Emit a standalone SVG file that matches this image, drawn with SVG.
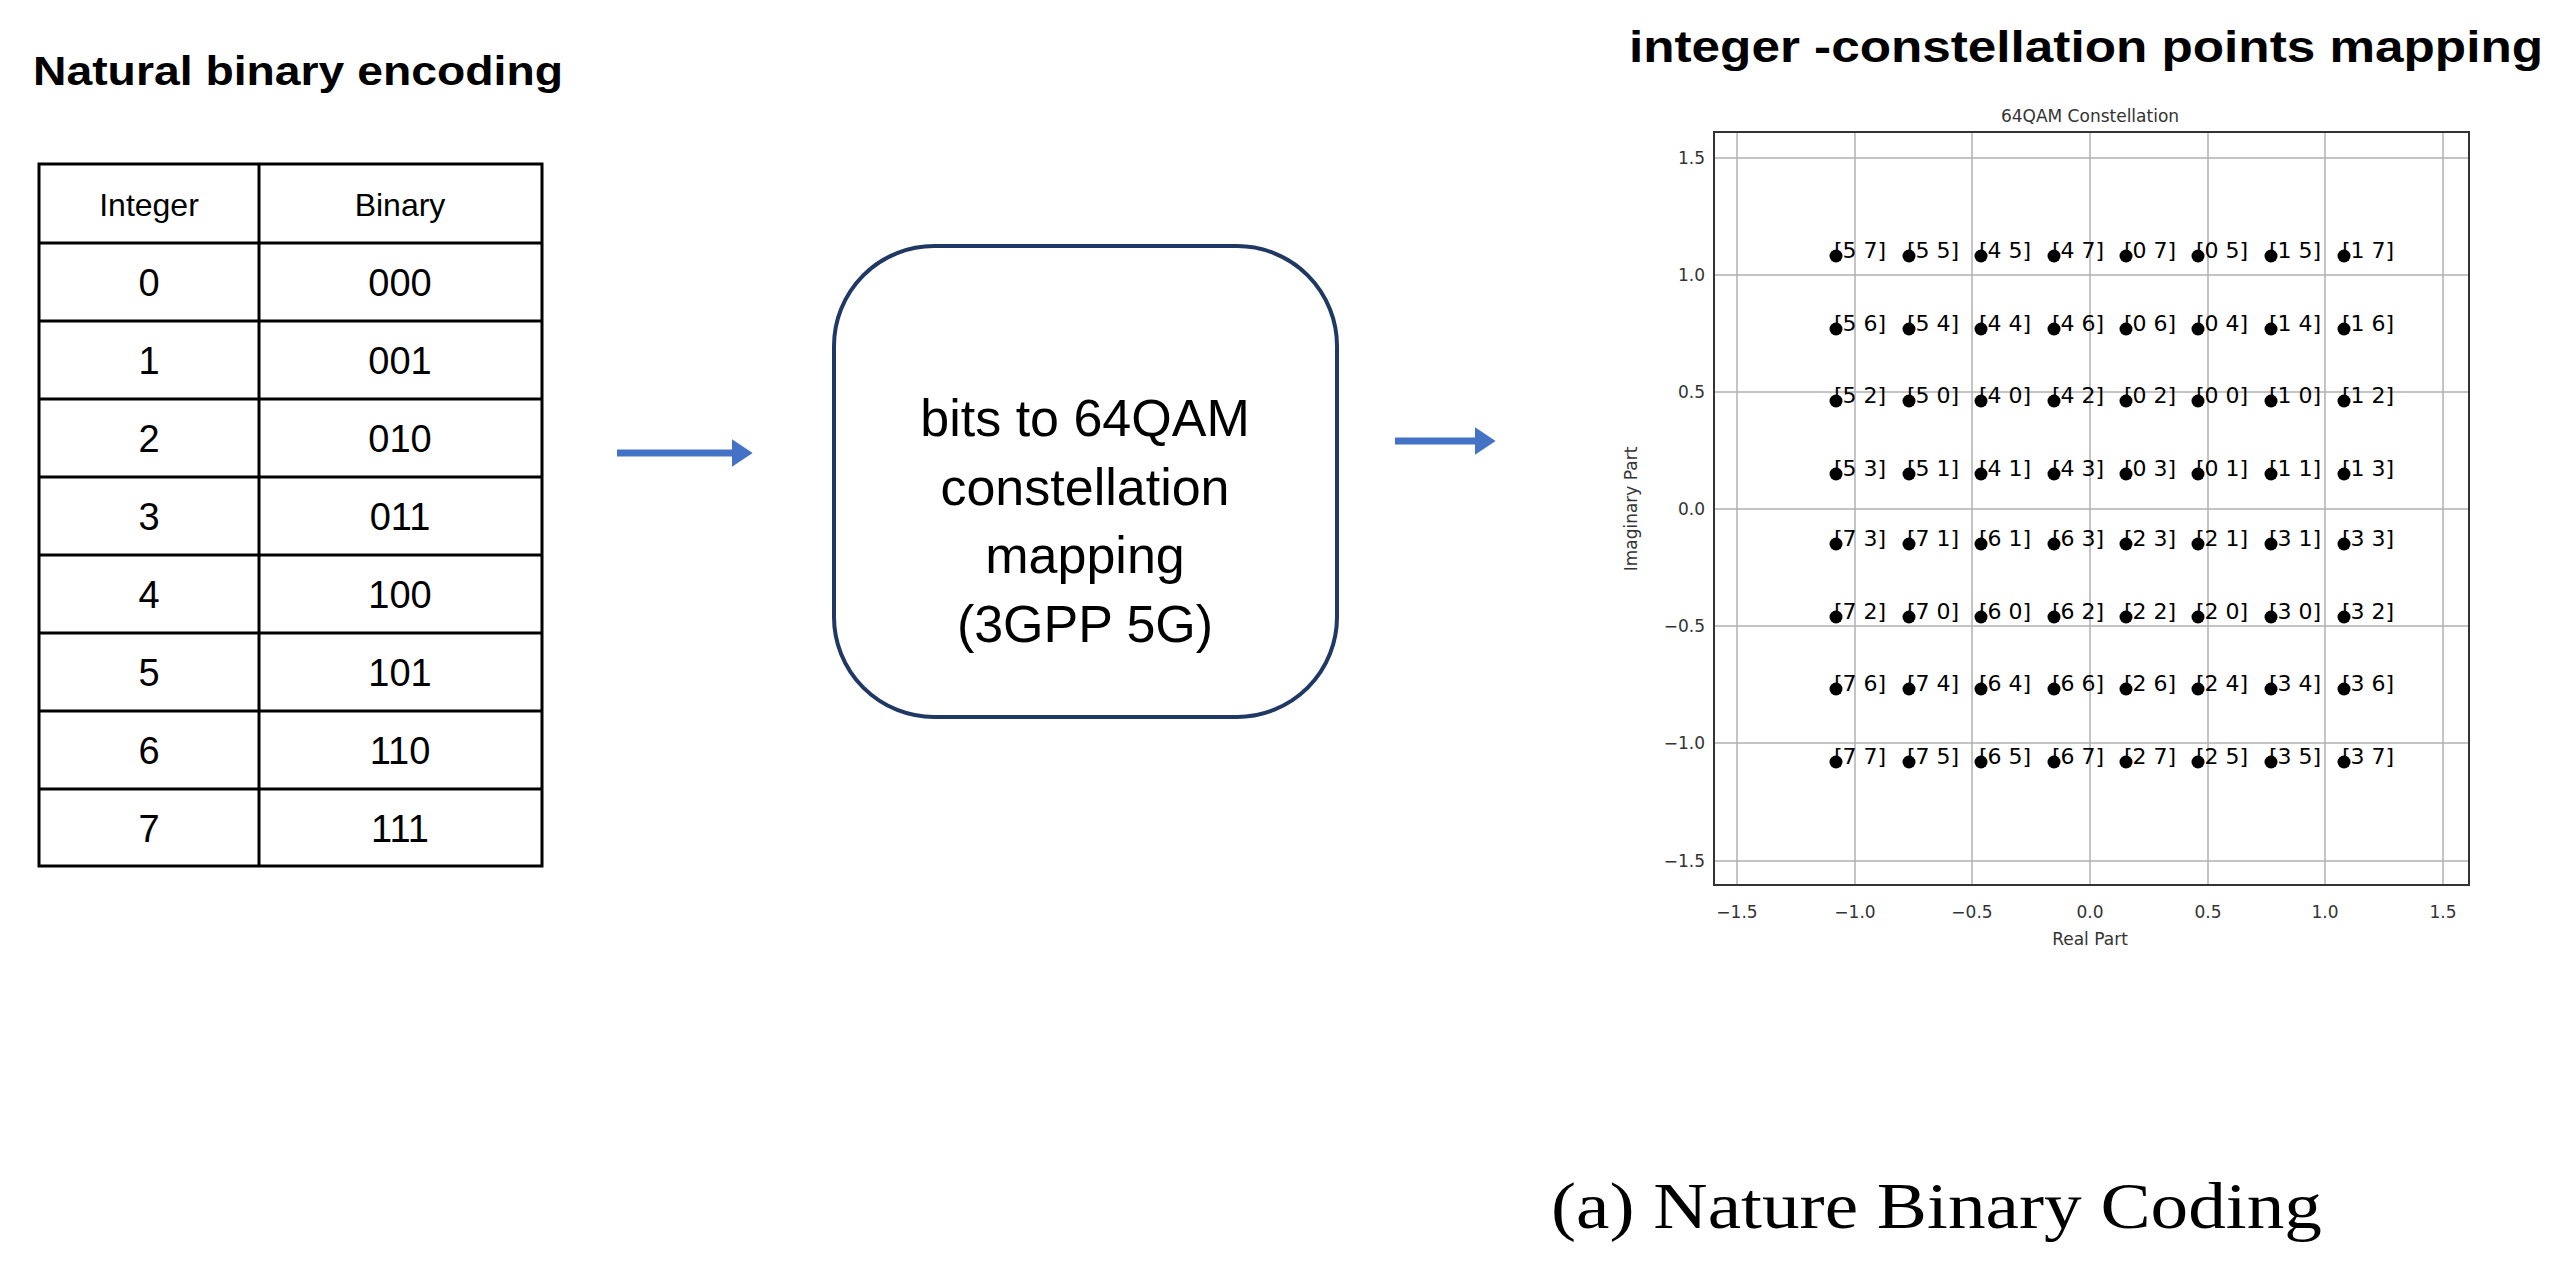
<svg xmlns="http://www.w3.org/2000/svg" width="2573" height="1268" viewBox="0 0 2573 1268">
<style>
.t{font-family:"Liberation Sans",Arial,sans-serif;fill:#000}
.c{text-anchor:middle}
.cell{font-size:38px}
.grid{stroke:#b0b0b0;stroke-width:1.5}
.tick{font-family:"DejaVu Sans",sans-serif;font-size:17px;fill:#333}
.lab{font-family:"DejaVu Sans",sans-serif;font-size:22px;fill:#000}
.arr{stroke:#4472c4;stroke-width:7;fill:none}
</style>
<defs><marker id="ah" markerWidth="4" markerHeight="4" refX="2.2" refY="2" orient="auto"><path d="M0,0 L3,2 L0,4 z" fill="#4472c4"/></marker></defs>
<rect width="2573" height="1268" fill="#fff"/>
<g id="title-left"><text class="t" x="33" y="85" font-size="40" font-weight="bold" fill="#333" textLength="530" lengthAdjust="spacingAndGlyphs">Natural binary encoding</text></g>
<g id="table">
<rect x="39" y="164" width="503" height="702" fill="none" stroke="#000" stroke-width="3"/>
<line x1="259" y1="164" x2="259" y2="866" stroke="#000" stroke-width="3"/>
<g stroke="#000" stroke-width="3"><line x1="39" y1="243" x2="542" y2="243"/><line x1="39" y1="321" x2="542" y2="321"/><line x1="39" y1="399" x2="542" y2="399"/><line x1="39" y1="477" x2="542" y2="477"/><line x1="39" y1="555" x2="542" y2="555"/><line x1="39" y1="633" x2="542" y2="633"/><line x1="39" y1="711" x2="542" y2="711"/><line x1="39" y1="789" x2="542" y2="789"/></g>
<text class="t c" x="149" y="216" font-size="32">Integer</text><text class="t c" x="400" y="216" font-size="32">Binary</text>
<g class="t c cell">
<text x="149" y="296">0</text><text x="400" y="296">000</text>
<text x="149" y="374">1</text><text x="400" y="374">001</text>
<text x="149" y="452">2</text><text x="400" y="452">010</text>
<text x="149" y="530">3</text><text x="400" y="530">011</text>
<text x="149" y="608">4</text><text x="400" y="608">100</text>
<text x="149" y="686">5</text><text x="400" y="686">101</text>
<text x="149" y="764">6</text><text x="400" y="764">110</text>
<text x="149" y="842">7</text><text x="400" y="842">111</text>
</g></g>
<g id="connectors"><line class="arr" x1="617" y1="453" x2="747" y2="453" marker-end="url(#ah)"/><line class="arr" x1="1395" y1="441" x2="1490" y2="441" marker-end="url(#ah)"/></g>
<g id="mapper"><rect x="834" y="246" width="503" height="471" rx="100" fill="#fff" stroke="#1f3864" stroke-width="4"/>
<g class="t c" font-size="52"><text x="1085" y="436">bits to 64QAM</text><text x="1085" y="505">constellation</text><text x="1085" y="573">mapping</text><text x="1085" y="642">(3GPP 5G)</text></g></g>
<g id="title-right"><text class="t" x="1629" y="62" font-size="44" font-weight="bold" textLength="914" lengthAdjust="spacingAndGlyphs">integer -constellation points mapping</text></g>
<g id="plot">
<g class="grid">
<line x1="1737" y1="132" x2="1737" y2="885"/><line x1="1855" y1="132" x2="1855" y2="885"/><line x1="1972" y1="132" x2="1972" y2="885"/><line x1="2090" y1="132" x2="2090" y2="885"/><line x1="2208" y1="132" x2="2208" y2="885"/><line x1="2325" y1="132" x2="2325" y2="885"/><line x1="2443" y1="132" x2="2443" y2="885"/>
<line x1="1714" y1="158" x2="2469" y2="158"/><line x1="1714" y1="275" x2="2469" y2="275"/><line x1="1714" y1="392" x2="2469" y2="392"/><line x1="1714" y1="509" x2="2469" y2="509"/><line x1="1714" y1="626" x2="2469" y2="626"/><line x1="1714" y1="743" x2="2469" y2="743"/><line x1="1714" y1="861" x2="2469" y2="861"/>
</g>
<rect x="1714" y="132" width="755" height="753" fill="none" stroke="#333" stroke-width="2"/>
<g class="tick" text-anchor="middle">
<text x="1737" y="918">−1.5</text><text x="1855" y="918">−1.0</text><text x="1972" y="918">−0.5</text><text x="2090" y="918">0.0</text><text x="2208" y="918">0.5</text><text x="2325" y="918">1.0</text><text x="2443" y="918">1.5</text>
</g>
<g class="tick" text-anchor="end">
<text x="1705" y="164">1.5</text><text x="1705" y="281">1.0</text><text x="1705" y="398">0.5</text><text x="1705" y="515">0.0</text><text x="1705" y="632">−0.5</text><text x="1705" y="749">−1.0</text><text x="1705" y="867">−1.5</text>
</g>
<text class="tick" x="2090" y="122" text-anchor="middle" font-size="19">64QAM Constellation</text>
<text class="tick" x="2090" y="945" text-anchor="middle" font-size="18">Real Part</text>
<text class="tick" transform="translate(1637,509) rotate(-90)" text-anchor="middle" font-size="18">Imaginary Part</text>
<g class="lab">
<text y="258"><tspan x="1834">[5 7]</tspan><tspan x="1907">[5 5]</tspan><tspan x="1979">[4 5]</tspan><tspan x="2052">[4 7]</tspan><tspan x="2124">[0 7]</tspan><tspan x="2196">[0 5]</tspan><tspan x="2269">[1 5]</tspan><tspan x="2342">[1 7]</tspan></text>
<text y="331"><tspan x="1834">[5 6]</tspan><tspan x="1907">[5 4]</tspan><tspan x="1979">[4 4]</tspan><tspan x="2052">[4 6]</tspan><tspan x="2124">[0 6]</tspan><tspan x="2196">[0 4]</tspan><tspan x="2269">[1 4]</tspan><tspan x="2342">[1 6]</tspan></text>
<text y="403"><tspan x="1834">[5 2]</tspan><tspan x="1907">[5 0]</tspan><tspan x="1979">[4 0]</tspan><tspan x="2052">[4 2]</tspan><tspan x="2124">[0 2]</tspan><tspan x="2196">[0 0]</tspan><tspan x="2269">[1 0]</tspan><tspan x="2342">[1 2]</tspan></text>
<text y="476"><tspan x="1834">[5 3]</tspan><tspan x="1907">[5 1]</tspan><tspan x="1979">[4 1]</tspan><tspan x="2052">[4 3]</tspan><tspan x="2124">[0 3]</tspan><tspan x="2196">[0 1]</tspan><tspan x="2269">[1 1]</tspan><tspan x="2342">[1 3]</tspan></text>
<text y="546"><tspan x="1834">[7 3]</tspan><tspan x="1907">[7 1]</tspan><tspan x="1979">[6 1]</tspan><tspan x="2052">[6 3]</tspan><tspan x="2124">[2 3]</tspan><tspan x="2196">[2 1]</tspan><tspan x="2269">[3 1]</tspan><tspan x="2342">[3 3]</tspan></text>
<text y="619"><tspan x="1834">[7 2]</tspan><tspan x="1907">[7 0]</tspan><tspan x="1979">[6 0]</tspan><tspan x="2052">[6 2]</tspan><tspan x="2124">[2 2]</tspan><tspan x="2196">[2 0]</tspan><tspan x="2269">[3 0]</tspan><tspan x="2342">[3 2]</tspan></text>
<text y="691"><tspan x="1834">[7 6]</tspan><tspan x="1907">[7 4]</tspan><tspan x="1979">[6 4]</tspan><tspan x="2052">[6 6]</tspan><tspan x="2124">[2 6]</tspan><tspan x="2196">[2 4]</tspan><tspan x="2269">[3 4]</tspan><tspan x="2342">[3 6]</tspan></text>
<text y="764"><tspan x="1834">[7 7]</tspan><tspan x="1907">[7 5]</tspan><tspan x="1979">[6 5]</tspan><tspan x="2052">[6 7]</tspan><tspan x="2124">[2 7]</tspan><tspan x="2196">[2 5]</tspan><tspan x="2269">[3 5]</tspan><tspan x="2342">[3 7]</tspan></text>
</g>
<g fill="#000">
<g id="r1"><circle cx="1836" cy="256" r="6.5"/><circle cx="1909" cy="256" r="6.5"/><circle cx="1981" cy="256" r="6.5"/><circle cx="2054" cy="256" r="6.5"/><circle cx="2126" cy="256" r="6.5"/><circle cx="2198" cy="256" r="6.5"/><circle cx="2271" cy="256" r="6.5"/><circle cx="2344" cy="256" r="6.5"/></g>
<use href="#r1" y="73"/><use href="#r1" y="145"/><use href="#r1" y="218"/><use href="#r1" y="288"/><use href="#r1" y="361"/><use href="#r1" y="433"/><use href="#r1" y="506"/>
</g>
</g>
<g id="caption"><text x="1551" y="1228" font-family="Liberation Serif,serif" font-size="66" textLength="771" lengthAdjust="spacingAndGlyphs">(a) Nature Binary Coding</text></g>
</svg>
